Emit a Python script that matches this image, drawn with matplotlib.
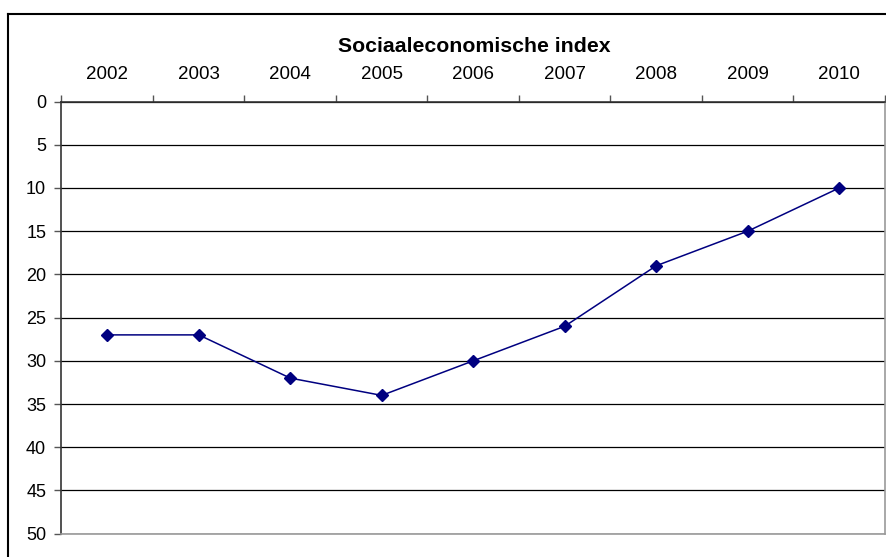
import matplotlib.pyplot as plt
from matplotlib.lines import Line2D
import numpy as np

plt.rcParams['font.family'] = ['Liberation Sans', 'DejaVu Sans']

# data
years = ['2002', '2003', '2004', '2005', '2006', '2007', '2008', '2009', '2010']
index_values = [27, 27, 32, 34, 30, 26, 19, 15, 10]
y_ticks = [0, 5, 10, 15, 20, 25, 30, 35, 40, 45, 50]

W, H = 887, 557
fig = plt.figure(figsize=(W / 100, H / 100), dpi=100)

# outer chart border (cut off on right and bottom like the reference)
fig.add_artist(Line2D([8.5 / W, 8.5 / W], [0, 1 - 13.5 / H], transform=fig.transFigure,
                      color='black', lw=1.5))
fig.add_artist(Line2D([8.5 / W, 1], [1 - 13.5 / H, 1 - 13.5 / H], transform=fig.transFigure,
                      color='black', lw=1.5))

left, right = 61.5 / W, 885 / W
top, bottom = 1 - 101.5 / H, 1 - 533.7 / H
ax = fig.add_axes([left, bottom, right - left, top - bottom])

x = np.arange(len(years))
ax.plot(x, index_values, color='#000080', lw=1.1, marker='D', markersize=6,
        zorder=3, clip_on=False)

ax.set_xlim(-0.5, len(years) - 0.5)
ax.set_ylim(50, 0)

# horizontal gridlines
ax.set_yticks(y_ticks)
ax.set_yticklabels([str(v) for v in y_ticks], fontsize=13)
ax.yaxis.grid(True, color='black', lw=0.9)
ax.set_axisbelow(True)
ax.tick_params(axis='y', direction='out', length=5, width=1, color='#555555', pad=6)

# category axis on top, labels centred, ticks at boundaries
ax.xaxis.tick_top()
ax.set_xticks(x)
ax.set_xticklabels(years, fontsize=13.5)
ax.set_xticks(np.arange(len(years) + 1) - 0.5, minor=True)
ax.tick_params(axis='x', which='major', length=0, pad=13)
ax.tick_params(axis='x', which='minor', direction='out', length=5, width=1, color='#555555')

ax.spines['left'].set_color('#333333')
ax.spines['top'].set_color('#333333')
ax.spines['right'].set_color('#999999')
ax.spines['bottom'].set_color('#999999')
for s in ax.spines.values():
    s.set_linewidth(1.2)

fig.text(474 / W, 1 - 46 / H, 'Sociaaleconomische index', ha='center', va='center',
         fontsize=15.3, fontweight='bold')

fig.savefig('out.png', dpi=100)
